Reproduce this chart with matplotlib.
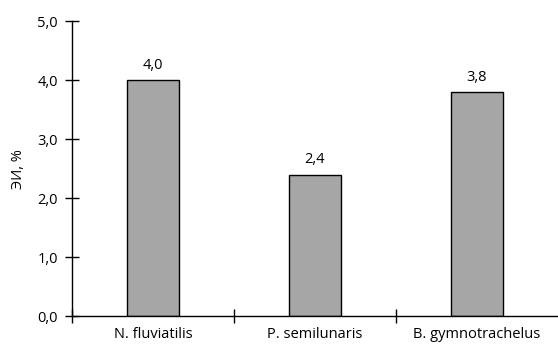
import numpy as np
import matplotlib.pyplot as plt

species = ['N. fluviatilis', 'P. semilunaris', 'B. gymnotrachelus']
ei_values = [4.0, 2.4, 3.8]
y_ticks = [0, 1, 2, 3, 4, 5]

plt.rcParams['font.family'] = ['Open Sans', 'DejaVu Sans']

fig = plt.figure(figsize=(5.58, 3.47), dpi=100)
ax = fig.add_axes([0.129, 0.089, 0.871, 0.85])

x = np.arange(len(species))
ax.bar(x, ei_values, width=0.32, color='#a6a6a6', edgecolor='black', linewidth=1.0)

for xi, v in zip(x, ei_values):
    ax.text(xi, v + 0.12, f'{v:.1f}'.replace('.', ','), ha='center', va='bottom', fontsize=10.5)

ax.set_xlim(-0.5, 2.5)
ax.set_ylim(0, 5)
ax.set_yticks(y_ticks)
ax.set_yticklabels([f'{t:.1f}'.replace('.', ',') for t in y_ticks], fontsize=10.5)

# category labels in the middle, tick marks between categories
ax.set_xticks(x)
ax.set_xticklabels(species, fontsize=10.5)
ax.tick_params(axis='x', length=0, pad=8)
ax.set_xticks([-0.5, 0.5, 1.5], minor=True)
ax.tick_params(axis='x', which='minor', direction='inout', length=10, width=1)
ax.tick_params(axis='y', direction='inout', length=10, width=1, pad=5)

ax.spines['top'].set_visible(False)
ax.spines['right'].set_visible(False)
ax.spines['left'].set_linewidth(1)
ax.spines['bottom'].set_linewidth(1)

ax.set_ylabel('ЭИ, %', fontsize=10.5, labelpad=8)

fig.savefig('out.png', dpi=100)
